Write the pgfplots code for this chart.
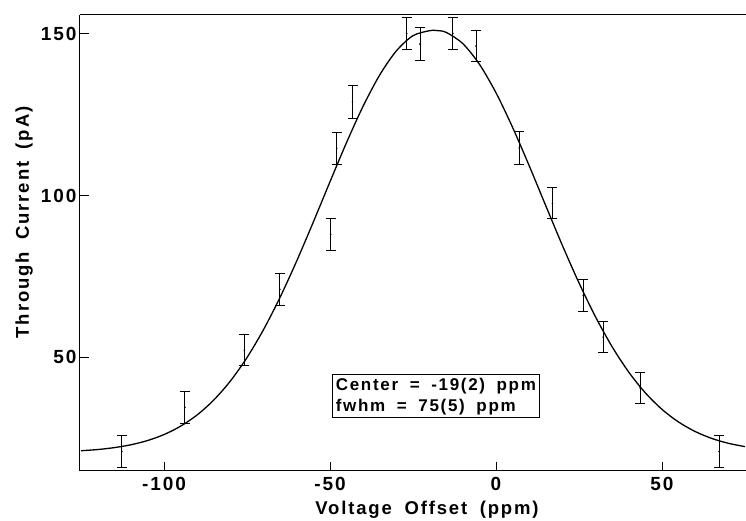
\documentclass[border=0pt]{standalone}
\usepackage{fontspec}
\setmainfont{Liberation Sans}
\newfontfamily\plotfont[LetterSpace=10, WordSpace=1.8]{Liberation Sans}
\usepackage{pgfplots}
\pgfplotsset{compat=1.18}
\begin{document}
\begin{tikzpicture}
\begin{axis}[
  name=ax,
  at={(0,0)}, anchor=south west,
  scale only axis,
  width=666pt, height=455.7pt,
  xmin=-125.3, xmax=75.3,
  ymin=14.9, ymax=155.8,
  axis x line*=box, axis y line*=left,
  axis line style={line width=1pt},
  xtick={-100,-50,0,50}, ytick={50,100,150},
  xtick pos=left, ytick pos=left,
  tick align=inside,
  major tick length=9pt,
  tick style={line width=0.9pt, black},
  /pgf/number format/assume math mode=true,
  tick label style={font=\fontsize{19}{21}\selectfont\plotfont\bfseries},
  xticklabel style={yshift=-3pt},
  xlabel={Voltage Offset (ppm)},
  ylabel={Through Current (pA)},
  xlabel style={font=\fontsize{18.5}{21}\selectfont\plotfont\bfseries, at={(axis description cs:0.521,0)}, anchor=center, yshift=-39pt},
  ylabel style={font=\fontsize{18.5}{21}\selectfont\plotfont\bfseries, at={(axis description cs:-0.084,0.545)}, anchor=center},
  clip=true,
]
\addplot[line width=1.3pt, smooth, no marks] coordinates {
(-125,21.07) (-120,21.44) (-115,22.03) (-110,22.91) (-105,24.21) (-100,26.07)
(-95,28.66) (-90,32.16) (-85,36.76) (-80,42.63) (-75,49.88) (-70,58.56)
(-65,68.60) (-60,79.81) (-55,91.85) (-50,104.24) (-45,116.40) (-40,127.65)
(-35,137.30) (-30,144.72) (-25,149.40) (-20,150.95) (-18,151.0) (-15,150.42)
(-10,146.95) (-5,140.57) (0,131.74) (5,121.04) (10,109.18) (15,96.80)
(20,84.54) (25,72.96) (30,62.42) (35,53.18) (40,45.36) (45,38.95)
(50,33.86) (55,29.94) (60,27.01) (65,24.87) (70,23.37) (75,22.34)
};
\addplot[only marks, mark=*, mark size=0.6pt, black,
  error bars/.cd, y dir=both, y explicit,
  error bar style={line width=0.9pt, black},
  error mark options={rotate=90, mark size=5pt, line width=0.9pt, black}]
coordinates {
(-112.7,20.8) +- (0,5.0)
(-93.7,34.5) +- (0,4.9)
(-75.8,52.2) +- (0,4.8)
(-65.1,71.0) +- (0,4.9)
(-49.8,87.9) +- (0,4.9)
(-48.0,114.6) +- (0,5.0)
(-43.2,128.9) +- (0,5.0)
(-26.9,150.1) +- (0,5.0)
(-22.9,146.8) +- (0,5.0)
(-13.0,150.1) +- (0,5.0)
(-6.0,146.2) +- (0,4.8)
(7.0,114.7) +- (0,5.0)
(17.0,97.6) +- (0,4.8)
(26.3,69.0) +- (0,4.9)
(32.3,56.2) +- (0,4.8)
(43.4,40.5) +- (0,4.9)
(67.2,20.8) +- (0,5.0)
};
\node[draw, line width=0.8pt, fill=white, align=left, inner sep=3pt,
  font=\fontsize{17}{21}\selectfont\plotfont\bfseries]
  at (axis cs:-18.1,37.9) {Center = -19(2) ppm\\fwhm = 75(5) ppm};
\end{axis}
\pgfresetboundingbox
\path[use as bounding box] ([shift={(-80pt,-50.3pt)}]ax.south west) rectangle ([shift={(0pt,15pt)}]ax.north east);
\end{tikzpicture}
\end{document}
